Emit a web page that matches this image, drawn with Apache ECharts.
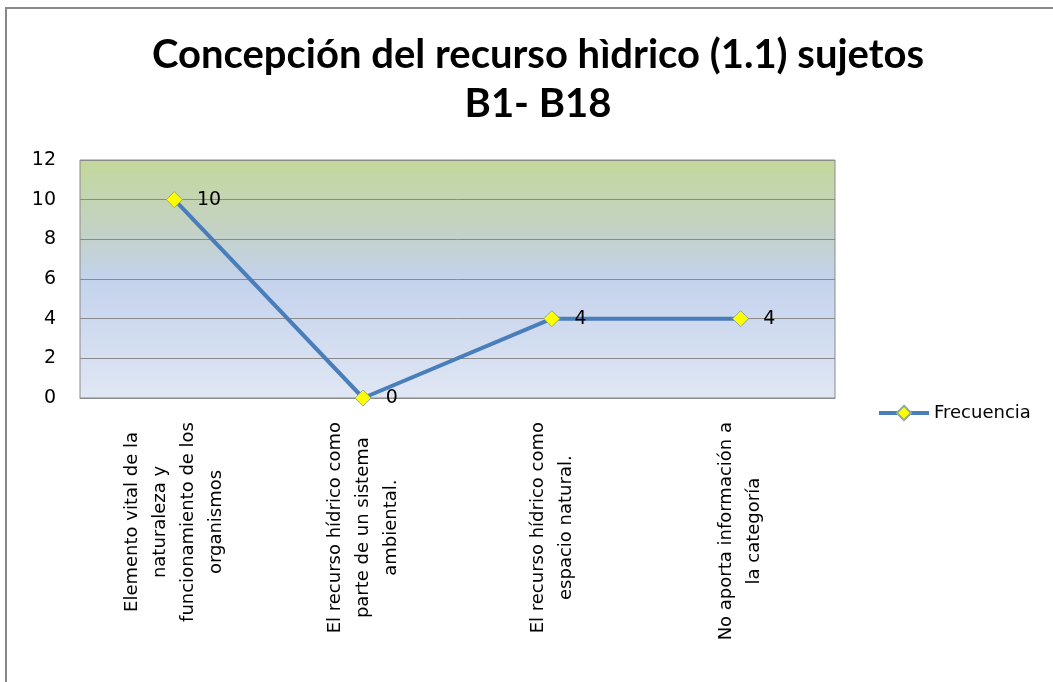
<!DOCTYPE html>
<html>
<head>
<meta charset="utf-8">
<script src="https://cdn.jsdelivr.net/npm/echarts@6/dist/echarts.min.js"></script>
<style>
  html, body { margin: 0; padding: 0; background: #fff; }
  #chart { width: 1053px; height: 682px; }
</style>
</head>
<body>
<div id="chart"></div>
<script>
  var categories = [
    ['Elemento vital de la', 'naturaleza y', 'funcionamiento de los', 'organismos'],
    ['El recurso hídrico como', 'parte de un sistema', 'ambiental.'],
    ['El recurso hídrico como', 'espacio natural.'],
    ['No aporta información a', 'la categoría']
  ];
  var frecuencia = [10, 0, 4, 4];
  var yTicks = { min: 0, max: 12, interval: 2 };

  var chart = echarts.init(document.getElementById('chart'));

  var option = {
    animation: false,
    backgroundColor: '#ffffff',
    textStyle: { fontFamily: 'DejaVu Sans' },
    title: {
      text: 'Concepción del recurso hìdrico (1.1) sujetos\nB1- B18',
      left: 533,
      textAlign: 'center',
      top: 26,
      textStyle: {
        fontFamily: 'Lato',
        fontWeight: 'bold',
        fontSize: 40,
        lineHeight: 49,
        color: '#000'
      }
    },
    graphic: [{
      type: 'rect',
      shape: { x: 6, y: 8, width: 1100, height: 700 },
      style: { fill: 'none', stroke: '#888', lineWidth: 2 },
      silent: true
    }],
    legend: {
      left: 872,
      top: 399,
      itemWidth: 50,
      itemHeight: 18,
      itemGap: 5,
      data: ['Frecuencia'],
      lineStyle: { width: 4 },
      textStyle: { fontSize: 18, color: '#000', fontFamily: 'DejaVu Sans' }
    },
    grid: {
      left: 80,
      right: 218,
      top: 160,
      bottom: 284,
      show: true,
      borderColor: '#8a8a8a',
      borderWidth: 1,
      backgroundColor: {
        type: 'linear', x: 0, y: 0, x2: 0, y2: 1,
        colorStops: [
          { offset: 0, color: '#c4d89b' },
          { offset: 0.3, color: '#c3d2c6' },
          { offset: 0.5, color: '#c4d2ec' },
          { offset: 1, color: '#e0e7f4' }
        ]
      }
    },
    xAxis: {
      type: 'category',
      data: categories.map(function (c) { return c.join('\n'); }),
      boundaryGap: true,
      axisLine: { lineStyle: { color: '#8a8a8a' } },
      axisTick: { show: false },
      axisLabel: {
        rotate: 90,
        margin: 24,
        interval: 0,
        color: '#000',
        fontSize: 18,
        lineHeight: 28,
        formatter: function (v) {
          return v.split('\n').map(function (l) { return '{c|' + l + '}'; }).join('\n');
        },
        rich: {
          c: { align: 'center', fontSize: 18, lineHeight: 28, color: '#000', fontFamily: 'DejaVu Sans' }
        }
      }
    },
    yAxis: {
      type: 'value',
      min: yTicks.min,
      max: yTicks.max,
      interval: yTicks.interval,
      axisLine: { show: false },
      axisTick: { show: false },
      axisLabel: { fontSize: 19, color: '#000', margin: 24 },
      splitLine: { lineStyle: { color: '#8a8a8a', width: 1 } }
    },
    series: [{
      name: 'Frecuencia',
      type: 'line',
      data: frecuencia,
      symbol: 'diamond',
      symbolSize: 16,
      lineStyle: { color: '#4a7ebb', width: 4 },
      itemStyle: { color: '#ffff00', borderColor: '#8fa89a', borderWidth: 1 },
      label: {
        show: true,
        position: 'right',
        distance: 14,
        fontSize: 19,
        color: '#000'
      }
    }]
  };

  chart.setOption(option);
</script>
</body>
</html>
